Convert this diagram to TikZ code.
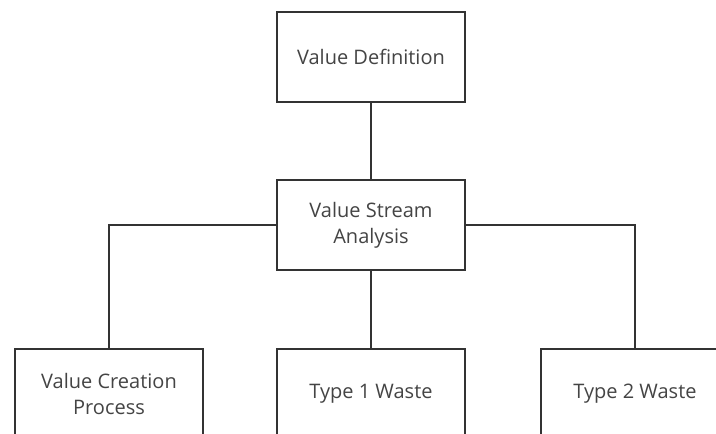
\documentclass[tikz,border=0pt]{standalone}
\usepackage{fontspec}
\setmainfont{Open Sans}
\definecolor{linec}{HTML}{333333}
\definecolor{textc}{HTML}{444444}
\begin{document}
\begin{tikzpicture}[x=1pt,y=-1pt,
  box/.style={draw=linec, line width=2pt, minimum width=188pt, minimum height=90pt,
    inner sep=0pt, align=center, text=textc, font=\fontsize{20}{26}\selectfont},
  conn/.style={draw=linec, line width=2pt}]
\useasboundingbox (0,0) rectangle (716,434);
\clip (0,0) rectangle (716,434);
\node[box] (vd) at (371,56.5) {Value Definition};
\node[box] (vs) at (371,225) {Value Stream\\Analysis};
\node[box] (vc) at (109,394) {Value Creation\\Process};
\node[box] (t1) at (371,394) {Type 1 Waste};
\node[box] (t2) at (635,394) {Type 2 Waste};
\draw[conn] (vd) -- (vs);
\draw[conn] (vs) -- (t1);
\draw[conn] (vs.west) -| (vc.north);
\draw[conn] (vs.east) -| (t2.north);
\end{tikzpicture}
\end{document}
